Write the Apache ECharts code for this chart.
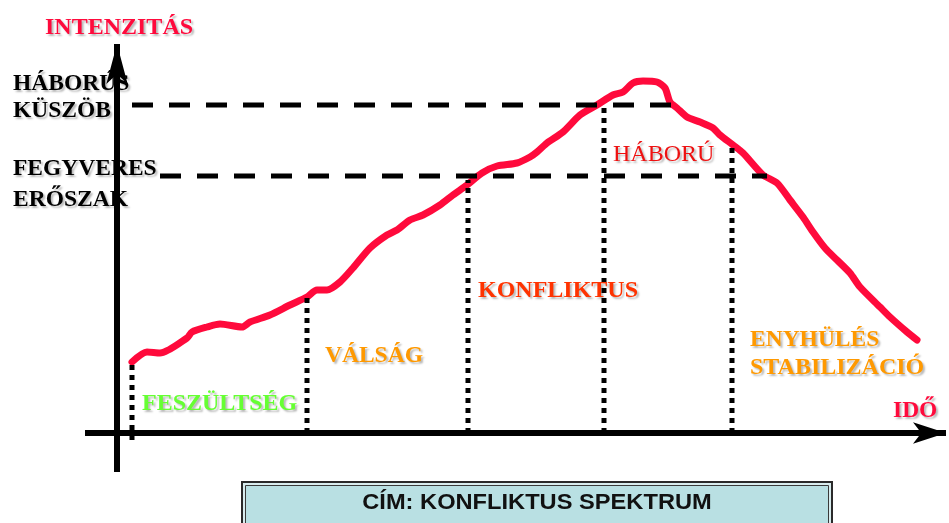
<!DOCTYPE html>
<html>
<head>
<meta charset="utf-8">
<script src="https://cdn.jsdelivr.net/npm/echarts@6/dist/echarts.min.js"></script>
<style>
html,body{margin:0;padding:0;background:#fff;}
#chart{width:949px;height:523px;}
</style>
</head>
<body>
<div id="chart"></div>
<script>
// Conflict intensity curve (time, intensity; origin at the axes' crossing)
var curveTime = [15,30,43,70,75,90,103,125,133,153,173,190,200,210,223,236,253,270,280,293,306,323,336,350,365,380,400,413,420,430,446,463,480,496,506,516,526,540,548,553,560,570,583,596,603,616,626,646,660,673,686,696,708,720,733,743,763,773,790,800];
var curveIntensity = [71,81,80,95,101,106,109,106,111,118,128,136,143,143,151,165,185,198,203,213,218,228,238,248,260,267,270,276,281,290,301,318,328,338,341,350,352,351,345,331,325,316,311,305,298,288,280,258,250,233,216,201,185,173,160,146,126,116,101,93];

// Thresholds (intensity) and their dashed-line extents (time)
var thresholdNames = ['HÁBORÚS KÜSZÖB', 'FEGYVERES ERŐSZAK'];
var thresholdValues = [328, 257];
var thresholdStart = [15, 43];
var thresholdEnd = [560, 650];

// Phase boundaries (time) with dotted-line extents (intensity)
var boundaryTime = [15, 190, 351, 487, 615];
var boundaryTop = [71, 136, 253, 329, 287];
var boundaryBottom = [-7, 0, 0, 0, 0];

// Axes extents
var xAxisFrom = -32, xAxisTo = 829;
var yAxisFrom = -39, yAxisTo = 389;

var phaseLabels = ['FESZÜLTSÉG', 'VÁLSÁG', 'KONFLIKTUS', 'HÁBORÚ', 'ENYHÜLÉS', 'STABILIZÁCIÓ'];

var chart = echarts.init(document.getElementById('chart'));

var series = [];
series.push({
  type: 'line',
  name: 'intenzitás',
  data: curveTime.map(function (t, i) { return [t, curveIntensity[i]]; }),
  symbol: 'none',
  smooth: 0.25,
  lineStyle: { color: '#ff0a3c', width: 7, cap: 'round', join: 'round' },
  z: 2,
  silent: true
});
thresholdValues.forEach(function (v, i) {
  series.push({
    type: 'line',
    name: thresholdNames[i],
    data: [[thresholdStart[i], v], [thresholdEnd[i], v]],
    symbol: 'none',
    lineStyle: { color: '#000', width: 5, type: [21, 16], cap: 'butt' },
    z: 3,
    silent: true
  });
});
boundaryTime.forEach(function (t, i) {
  series.push({
    type: 'line',
    data: [[t, boundaryBottom[i]], [t, boundaryTop[i]]],
    symbol: 'none',
    lineStyle: { color: '#000', width: 5, type: [5, 5], cap: 'butt' },
    z: 3,
    silent: true
  });
});
series.push({
  type: 'line',
  data: [],
  z: 4,
  silent: true,
  markLine: {
    silent: true,
    symbol: ['none', 'arrow'],
    label: { show: false },
    lineStyle: { color: '#000', width: 6, type: 'solid' },
    emphasis: { disabled: true },
    animation: false,
    data: [
      [{ coord: [xAxisFrom, 0], symbolSize: [16, 33] }, { coord: [xAxisTo, 0], symbolSize: [16, 33] }],
      [{ coord: [0, yAxisFrom], symbolSize: [16, 40] }, { coord: [0, yAxisTo], symbolSize: [16, 40] }]
    ]
  }
});

function serifText(text, x, baseline, color, weight, size) {
  size = size || 23.5;
  return {
    type: 'text',
    x: x,
    y: baseline - Math.round(size * 0.3),
    z: 10,
    style: {
      text: text,
      fill: color,
      font: (weight || 'bold') + ' ' + size + 'px "Liberation Serif", serif',
      align: 'left',
      verticalAlign: 'middle',
      textAlign: 'left',
      textVerticalAlign: 'middle',
      textShadowColor: 'rgba(0,0,0,0.28)',
      textShadowBlur: 2,
      textShadowOffsetX: 2,
      textShadowOffsetY: 2
    }
  };
}

var graphics = [
  serifText('INTENZITÁS', 45, 35, '#ff0a3c', 'bold', 24),
  serifText('HÁBORÚS', 13, 91, '#000'),
  serifText('KÜSZÖB', 13, 118, '#000'),
  serifText('FEGYVERES', 13, 176, '#000'),
  serifText('ERŐSZAK', 13, 207, '#000'),
  serifText(phaseLabels[0], 142, 411, '#66ff33', 'bold', 24),
  serifText(phaseLabels[1], 325, 363, '#ff9900'),
  serifText(phaseLabels[2], 478, 298, '#ff3300', 'bold', 24),
  serifText(phaseLabels[3], 613, 162, '#ee1111', 'normal', 24),
  serifText(phaseLabels[4], 750, 347, '#ff9900'),
  serifText(phaseLabels[5], 750, 375, '#ff9900', 'bold', 24),
  serifText('IDŐ', 893, 418, '#ff0a3c'),
  {
    type: 'rect', z: 10,
    shape: { x: 242, y: 482, width: 590, height: 60 },
    style: { fill: '#d8ecee', stroke: '#2a2a2a', lineWidth: 2 }
  },
  {
    type: 'rect', z: 11,
    shape: { x: 245.5, y: 485.5, width: 583, height: 60 },
    style: { fill: '#b9e0e3', stroke: '#3a3a3a', lineWidth: 1 }
  },
  {
    type: 'text', z: 12,
    x: 537, y: 503, scaleX: 1.1,
    style: {
      text: 'CÍM: KONFLIKTUS SPEKTRUM',
      fill: '#111',
      font: 'bold 21.5px "Liberation Sans", Arial, sans-serif',
      align: 'center', verticalAlign: 'middle',
      textAlign: 'center', textVerticalAlign: 'middle'
    }
  }
];

chart.setOption({
  animation: false,
  backgroundColor: '#fff',
  grid: { left: 0, right: 0, top: 0, bottom: 0 },
  xAxis: { type: 'value', min: -117, max: 832, show: false },
  yAxis: { type: 'value', min: -90, max: 433, show: false },
  series: series,
  graphic: graphics
});
</script>
</body>
</html>
